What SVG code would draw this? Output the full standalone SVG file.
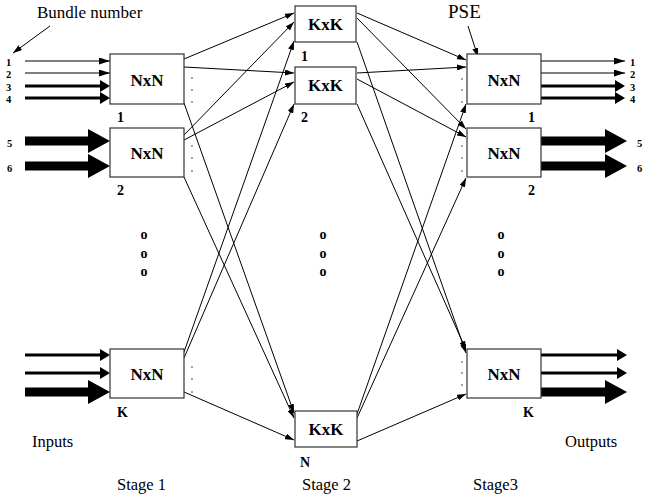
<svg xmlns="http://www.w3.org/2000/svg" width="646" height="498" viewBox="0 0 646 498">
<style>
.box{fill:#fff;stroke:#333;stroke-width:1.2}
.nm{font-family:"Liberation Serif","Times New Roman",serif;font-weight:bold;font-size:17px;text-anchor:middle}
.lb{font-family:"Liberation Serif","Times New Roman",serif;font-weight:bold;font-size:14px}
.bn{font-family:"Liberation Serif","Times New Roman",serif;font-weight:bold;font-size:10.5px}
.o{font-family:"Liberation Serif","Times New Roman",serif;font-weight:bold;font-size:14px;text-anchor:middle}
.t{font-family:"Liberation Serif","Times New Roman",serif;font-size:16.5px}
.c{stroke:#000;stroke-width:1;fill:none;marker-end:url(#ah)}
.thin{stroke:#000;stroke-width:1;marker-end:url(#ai)}
.med{stroke:#000;stroke-width:3;marker-end:url(#am)}
.thk{stroke:#000;stroke-width:9;marker-end:url(#at)}
.dot{fill:#333}
</style>
<defs>
<marker id="ah" markerUnits="userSpaceOnUse" markerWidth="10" markerHeight="6" refX="9" refY="3" orient="auto"><path d="M0,0 L9,3 L0,6 z" fill="#000"/></marker>
<marker id="ai" markerUnits="userSpaceOnUse" markerWidth="12" markerHeight="7" refX="11" refY="3.5" orient="auto"><path d="M0,0 L11,3.5 L0,7 z" fill="#000"/></marker>
<marker id="am" markerUnits="userSpaceOnUse" markerWidth="11" markerHeight="12" refX="0" refY="6" orient="auto"><path d="M0,0 L10,6 L0,12 z" fill="#000"/></marker>
<marker id="at" markerUnits="userSpaceOnUse" markerWidth="23" markerHeight="24" refX="0" refY="12" orient="auto"><path d="M0,0 L22,12 L0,24 z" fill="#000"/></marker>
</defs>

<!-- annotations -->
<g id="annotations">
<text class="t" x="37" y="18" style="font-size:17px">Bundle number</text>
<line class="c" x1="50" y1="26" x2="13" y2="53"/>
<text class="t" x="448" y="18" style="font-size:19px">PSE</text>
<line class="c" x1="468" y1="26" x2="478" y2="57"/>
<text class="t" x="32" y="447">Inputs</text>
<text class="t" x="565" y="447">Outputs</text>
<text class="t" x="117" y="490">Stage 1</text>
<text class="t" x="302" y="490">Stage 2</text>
<text class="t" x="473" y="490">Stage3</text>
<text class="o" x="144" y="239">o</text><text class="o" x="144" y="258">o</text><text class="o" x="144" y="276">o</text>
<text class="o" x="323" y="239">o</text><text class="o" x="323" y="258">o</text><text class="o" x="323" y="276">o</text>
<text class="o" x="501" y="239">o</text><text class="o" x="501" y="258">o</text><text class="o" x="501" y="276">o</text>
</g>

<!-- inputs -->
<g id="inputs">
<text class="bn" x="6" y="65.5">1</text>
<text class="bn" x="6" y="78">2</text>
<text class="bn" x="6" y="90.5">3</text>
<text class="bn" x="6" y="103">4</text>
<text class="bn" x="7" y="147">5</text>
<text class="bn" x="7" y="172">6</text>
<line class="thin" x1="25" y1="61" x2="110" y2="61"/>
<line class="thin" x1="25" y1="73" x2="110" y2="73"/>
<line class="med" x1="25" y1="86" x2="100" y2="86"/>
<line class="med" x1="25" y1="98" x2="100" y2="98"/>
<line class="thk" x1="25" y1="141" x2="88" y2="141"/>
<line class="thk" x1="25" y1="166" x2="88" y2="166"/>
<line class="med" x1="25" y1="355" x2="100" y2="355"/>
<line class="med" x1="25" y1="373" x2="100" y2="373"/>
<line class="thk" x1="25" y1="392" x2="88" y2="392"/>
</g>

<!-- outputs -->
<g id="outputs">
<line class="thin" x1="541" y1="61" x2="625" y2="61"/>
<line class="thin" x1="541" y1="73" x2="625" y2="73"/>
<line class="med" x1="541" y1="86" x2="615" y2="86"/>
<line class="med" x1="541" y1="98" x2="615" y2="98"/>
<line class="thk" x1="541" y1="141" x2="605" y2="141"/>
<line class="thk" x1="541" y1="166" x2="605" y2="166"/>
<line class="med" x1="541" y1="355" x2="617" y2="355"/>
<line class="med" x1="541" y1="373" x2="617" y2="373"/>
<line class="thk" x1="541" y1="392" x2="605" y2="392"/>
<text class="bn" x="630" y="65.5">1</text>
<text class="bn" x="630" y="78">2</text>
<text class="bn" x="630" y="90.5">3</text>
<text class="bn" x="630" y="103">4</text>
<text class="bn" x="637" y="147">5</text>
<text class="bn" x="637" y="172">6</text>
</g>

<!-- connectors -->
<g id="connectors">
<line class="c" x1="184" y1="59" x2="294" y2="13"/>
<line class="c" x1="184" y1="67" x2="294" y2="73"/>
<line class="c" x1="184" y1="103" x2="294" y2="413"/>
<line class="c" x1="184" y1="135" x2="294" y2="22"/>
<line class="c" x1="184" y1="140" x2="294" y2="82"/>
<line class="c" x1="184" y1="177" x2="294" y2="418"/>
<line class="c" x1="184" y1="352" x2="294" y2="41"/>
<line class="c" x1="184" y1="358" x2="294" y2="104"/>
<line class="c" x1="184" y1="392" x2="294" y2="440"/>
<line class="c" x1="357" y1="13" x2="466" y2="60"/>
<line class="c" x1="357" y1="18" x2="466" y2="129"/>
<line class="c" x1="357" y1="42" x2="466" y2="353"/>
<line class="c" x1="357" y1="73" x2="466" y2="67"/>
<line class="c" x1="357" y1="79" x2="466" y2="137"/>
<line class="c" x1="357" y1="104" x2="466" y2="350"/>
<line class="c" x1="357" y1="414" x2="466" y2="104"/>
<line class="c" x1="357" y1="418" x2="466" y2="178"/>
<line class="c" x1="357" y1="441" x2="466" y2="394"/>
</g>

<!-- stage 1 -->
<g id="s1-1">
<rect class="box" x="110" y="54" width="74" height="50"/>
<text class="nm" x="147" y="86">NxN</text>
<text class="lb" x="117" y="122">1</text>
<circle class="dot" cx="192" cy="78" r="0.8"/><circle class="dot" cx="192" cy="90" r="0.8"/><circle class="dot" cx="192" cy="102" r="0.8"/>
</g>
<g id="s1-2">
<rect class="box" x="110" y="128" width="74" height="49"/>
<text class="nm" x="147" y="159">NxN</text>
<text class="lb" x="117" y="195">2</text>
<circle class="dot" cx="192" cy="146" r="0.8"/><circle class="dot" cx="192" cy="158" r="0.8"/><circle class="dot" cx="192" cy="171" r="0.8"/>
</g>
<g id="s1-K">
<rect class="box" x="110" y="349" width="74" height="49"/>
<text class="nm" x="147" y="380">NxN</text>
<text class="lb" x="117" y="417">K</text>
<circle class="dot" cx="192" cy="367" r="0.8"/><circle class="dot" cx="192" cy="379" r="0.8"/><circle class="dot" cx="192" cy="392" r="0.8"/>
</g>

<!-- stage 2 -->
<g id="s2-1">
<rect class="box" x="295" y="6" width="61" height="36"/>
<text class="nm" x="325.5" y="30">KxK</text>
<text class="lb" x="301" y="61">1</text>
</g>
<g id="s2-2">
<rect class="box" x="295" y="67" width="61" height="37"/>
<text class="nm" x="325.5" y="91">KxK</text>
<text class="lb" x="301" y="122">2</text>
</g>
<g id="s2-N">
<rect class="box" x="295" y="411" width="62" height="36"/>
<text class="nm" x="326" y="435">KxK</text>
<text class="lb" x="300" y="467">N</text>
</g>

<!-- stage 3 -->
<g id="s3-1">
<rect class="box" x="467" y="54" width="74" height="50"/>
<text class="nm" x="504" y="86">NxN</text>
<text class="lb" x="528" y="122">1</text>
<circle class="dot" cx="462" cy="79" r="0.8"/><circle class="dot" cx="462" cy="90" r="0.8"/><circle class="dot" cx="462" cy="102" r="0.8"/>
</g>
<g id="s3-2">
<rect class="box" x="467" y="128" width="74" height="49"/>
<text class="nm" x="504" y="159">NxN</text>
<text class="lb" x="528" y="195">2</text>
<circle class="dot" cx="462" cy="146" r="0.8"/><circle class="dot" cx="462" cy="158" r="0.8"/><circle class="dot" cx="462" cy="171" r="0.8"/>
</g>
<g id="s3-K">
<rect class="box" x="467" y="349" width="74" height="49"/>
<text class="nm" x="504" y="380">NxN</text>
<text class="lb" x="523" y="417">K</text>
<circle class="dot" cx="462" cy="362" r="0.8"/><circle class="dot" cx="462" cy="373" r="0.8"/><circle class="dot" cx="462" cy="385" r="0.8"/>
</g>
</svg>
